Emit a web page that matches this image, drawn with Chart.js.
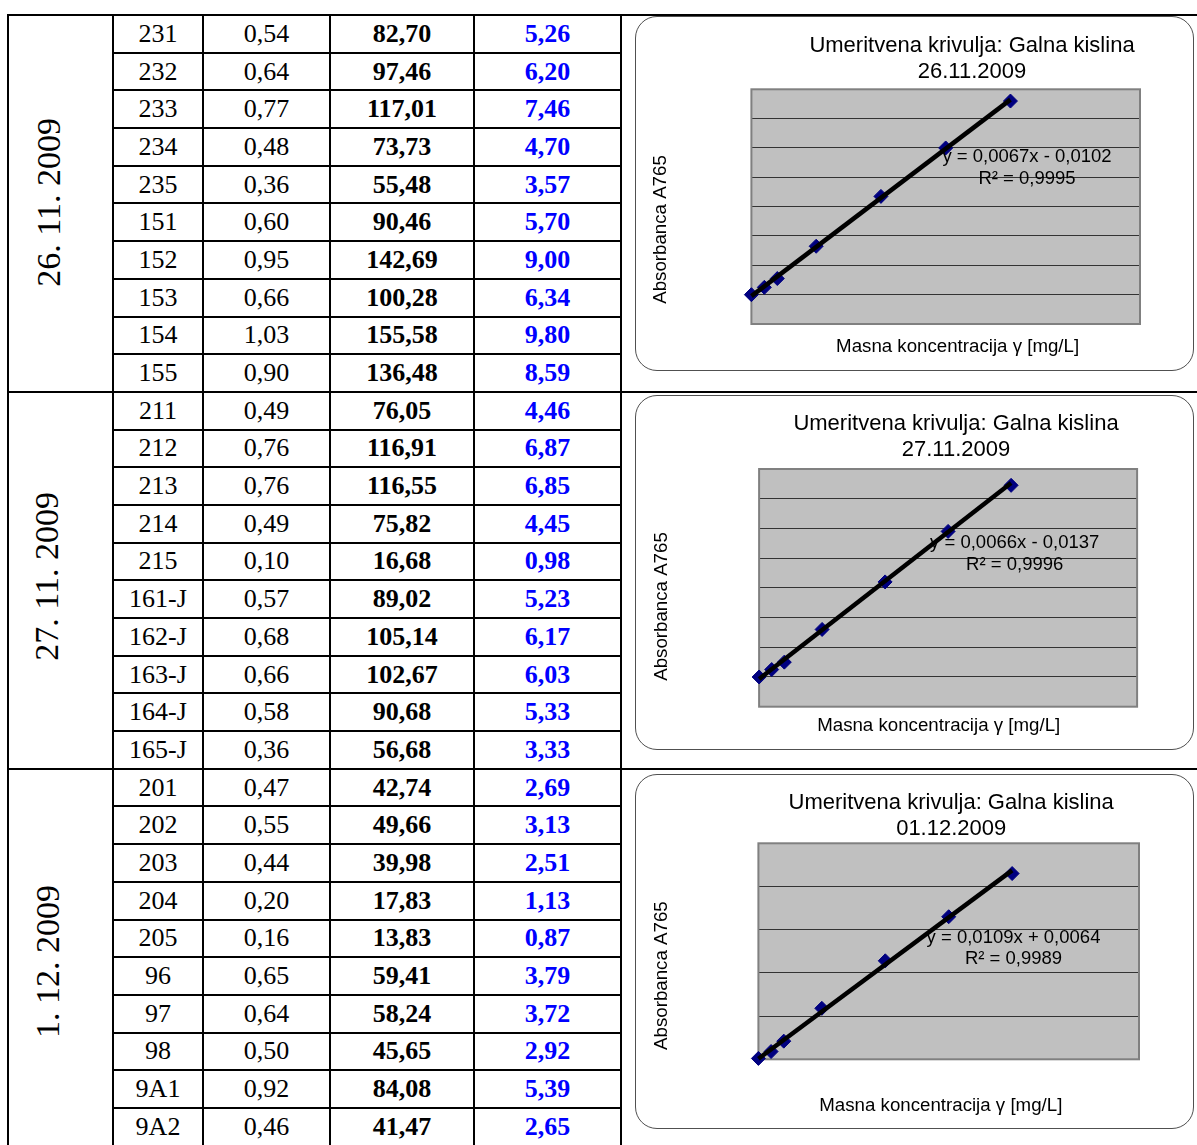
<!DOCTYPE html>
<html>
<head>
<meta charset="utf-8">
<script src="https://cdn.jsdelivr.net/npm/chart.js@4.4.1/dist/chart.umd.min.js"></script>
<style>
  html, body { margin: 0; padding: 0; background: #fff; overflow: hidden; width: 1197px; height: 1145px; }
  #tbl { position: absolute; left: 7px; top: 14px; width: 1193px; border-collapse: collapse; table-layout: fixed;
         font-family: "Liberation Serif", "Times New Roman", serif; font-size: 26px; color: #000; }
  #tbl td { border: 2px solid #000; padding: 0; text-align: center; vertical-align: middle; line-height: 1; white-space: nowrap; }
  #tbl tr { height: 37.7px; }
  #tbl td.b { font-weight: bold; }
  #tbl td.blue { font-weight: bold; color: #0000ff; }
  .dt { display: inline-block; writing-mode: vertical-rl; transform: rotate(180deg); font-size: 34px; position: relative; }
  .box { position: absolute; left: 635px; width: 559px; height: 355px; border: 1.5px solid #505050; border-radius: 22px; box-sizing: border-box; }
  canvas.ch { position: absolute; left: 622px; }
</style>
</head>
<body>
<table id="tbl">
  <colgroup>
    <col style="width:105px"><col style="width:90px"><col style="width:127px">
    <col style="width:144px"><col style="width:147px"><col style="width:580px">
  </colgroup>
  <tbody id="tbody"></tbody>
</table>

<div class="box" style="top:16px"></div>
<div class="box" style="top:395px"></div>
<div class="box" style="top:774px"></div>
<canvas class="ch" id="c0" width="575" height="376" style="top:16px"></canvas>
<canvas class="ch" id="c1" width="575" height="376" style="top:393px"></canvas>
<canvas class="ch" id="c2" width="575" height="376" style="top:770px"></canvas>

<script>
// ---- Table contents: measurement days and samples ----
const measureDays = ['26. 11. 2009', '27. 11. 2009', '1. 12. 2009'];

const sampleIds1 = ['231', '232', '233', '234', '235', '151', '152', '153', '154', '155'];
const absorb1    = [0.54, 0.64, 0.77, 0.48, 0.36, 0.60, 0.95, 0.66, 1.03, 0.90];
const massConc1  = [82.70, 97.46, 117.01, 73.73, 55.48, 90.46, 142.69, 100.28, 155.58, 136.48];
const content1   = [5.26, 6.20, 7.46, 4.70, 3.57, 5.70, 9.00, 6.34, 9.80, 8.59];

const sampleIds2 = ['211', '212', '213', '214', '215', '161-J', '162-J', '163-J', '164-J', '165-J'];
const absorb2    = [0.49, 0.76, 0.76, 0.49, 0.10, 0.57, 0.68, 0.66, 0.58, 0.36];
const massConc2  = [76.05, 116.91, 116.55, 75.82, 16.68, 89.02, 105.14, 102.67, 90.68, 56.68];
const content2   = [4.46, 6.87, 6.85, 4.45, 0.98, 5.23, 6.17, 6.03, 5.33, 3.33];

const sampleIds3 = ['201', '202', '203', '204', '205', '96', '97', '98', '9A1', '9A2'];
const absorb3    = [0.47, 0.55, 0.44, 0.20, 0.16, 0.65, 0.64, 0.50, 0.92, 0.46];
const massConc3  = [42.74, 49.66, 39.98, 17.83, 13.83, 59.41, 58.24, 45.65, 84.08, 41.47];
const content3   = [2.69, 3.13, 2.51, 1.13, 0.87, 3.79, 3.72, 2.92, 5.39, 2.65];

// ---- Calibration curves (gallic acid standards) ----
const curveTitle   = 'Umeritvena krivulja: Galna kislina';
const curveDates   = ['26.11.2009', '27.11.2009', '01.12.2009'];
const yAxisTitle   = 'Absorbanca A765';
const xAxisTitle   = 'Masna koncentracija γ [mg/L]';
const standardConc = [0, 10, 20, 50, 100, 150, 200];
const standardAbs1 = [0.00, 0.05, 0.11, 0.33, 0.67, 1.00, 1.32];
const standardAbs2 = [0.00, 0.05, 0.10, 0.32, 0.64, 0.98, 1.29];
const standardAbs3 = [0.01, 0.09, 0.21, 0.59, 1.14, 1.65, 2.15];
const fitSlopes     = [0.0067, 0.0066, 0.0109];
const fitIntercepts = [-0.0102, -0.0137, 0.0064];
const fitR2         = [0.9995, 0.9996, 0.9989];
const yMins  = [-0.2, -0.2, 0];
const yMaxs  = [1.4, 1.4, 2.5];
const ySteps = [0.2, 0.2, 0.5];
const xMax   = 300;

const comma = (v, d) => v.toFixed(d).replace('.', ',');

// ---- Build the table ----
const groups = [
  [sampleIds1, absorb1, massConc1, content1],
  [sampleIds2, absorb2, massConc2, content2],
  [sampleIds3, absorb3, massConc3, content3]
];
const dayLabelShift = [[-12, 1], [-14, -1], [-13, 7]];
const tbody = document.getElementById('tbody');
groups.forEach((g, gi) => {
  const [ids, ab, mc, ct] = g;
  ids.forEach((id, i) => {
    const tr = document.createElement('tr');
    if (i === 0) {
      const td = document.createElement('td');
      td.rowSpan = ids.length;
      const s = document.createElement('span');
      s.className = 'dt';
      s.textContent = measureDays[gi];
      s.style.left = dayLabelShift[gi][0] + 'px';
      s.style.top = dayLabelShift[gi][1] + 'px';
      td.appendChild(s);
      tr.appendChild(td);
    }
    const cells = [[id, ''], [comma(ab[i], 2), ''], [comma(mc[i], 2), 'b'], [comma(ct[i], 2), 'blue']];
    cells.forEach(([txt, cls]) => {
      const td = document.createElement('td');
      td.textContent = txt;
      if (cls) td.className = cls;
      tr.appendChild(td);
    });
    if (i === 0) {
      const td = document.createElement('td');
      td.rowSpan = ids.length;
      tr.appendChild(td);
    }
    tbody.appendChild(tr);
  });
});

// ---- Chart decoration: grey plot area, frame, titles and trendline label ----
const curveDecor = {
  id: 'curveDecor',
  beforeDraw(chart) {
    const { ctx, chartArea: a } = chart;
    ctx.save();
    ctx.fillStyle = '#c0c0c0';
    ctx.fillRect(a.left, a.top, a.right - a.left, a.bottom - a.top);
    ctx.restore();
  },
  beforeDatasetsDraw(chart) {
    const { ctx, chartArea: a } = chart;
    ctx.save();
    ctx.strokeStyle = '#808080';
    ctx.lineWidth = 2;
    ctx.strokeRect(a.left, a.top, a.right - a.left, a.bottom - a.top);
    ctx.restore();
  },
  afterDatasetsDraw(chart, args, o) {
    const ctx = chart.ctx;
    ctx.save();
    ctx.fillStyle = '#000';
    ctx.textAlign = 'center';
    ctx.textBaseline = 'middle';
    ctx.font = o.titleFont;
    o.title.forEach((t, i) => ctx.fillText(t, o.titleX, o.titleY[i]));
    ctx.font = o.axisFont;
    ctx.fillText(o.xTitle, o.xTitleX, o.xTitleY);
    ctx.save();
    ctx.translate(o.yTitleX, o.yTitleY);
    ctx.rotate(-Math.PI / 2);
    ctx.fillText(o.yTitle, 0, 0);
    ctx.restore();
    ctx.font = o.eqFont;
    o.eq.forEach((t, i) => ctx.fillText(t, o.eqX, o.eqY[i]));
    ctx.restore();
  }
};

const layouts = [
  { pad: { left: 129.4, right: 57, top: 73.3, bottom: 68 },   titleX: 350,   titleY: [29.8, 55.5], yTitleX: 38.5, yTitleY: 213.5, xTitleX: 335.6, xTitleY: 331.3, eqX: 405,   eqY: [140.7, 163] },
  { pad: { left: 137.1, right: 59.9, top: 76, bottom: 62.3 }, titleX: 334,   titleY: [31.3, 57],   yTitleX: 40,   yTitleY: 213.5, xTitleX: 316.7, xTitleY: 332.8, eqX: 392.7, eqY: [150.3, 172] },
  { pad: { left: 136.4, right: 58, top: 73.3, bottom: 86.7 }, titleX: 329.2, titleY: [33.3, 59.2], yTitleX: 40,   yTitleY: 205.6, xTitleX: 318.8, xTitleY: 335.8, eqX: 391.5, eqY: [168.3, 189.3] }
];

const standardAbs = [standardAbs1, standardAbs2, standardAbs3];

standardAbs.forEach((absVals, k) => {
  const L = layouts[k];
  const pts = standardConc.map((c, i) => ({ x: c, y: absVals[i] }));
  const x0 = standardConc[0], x1 = standardConc[standardConc.length - 1];
  const trend = [x0, x1].map(x => ({ x, y: fitSlopes[k] * x + fitIntercepts[k] }));
  const b = fitIntercepts[k];
  const eqText = 'y = ' + comma(fitSlopes[k], 4) + 'x ' + (b < 0 ? '- ' : '+ ') + comma(Math.abs(b), 4);

  new Chart(document.getElementById('c' + k), {
    type: 'scatter',
    data: {
      datasets: [
        { label: 'Linearni trend', type: 'line', data: trend, showLine: true, borderColor: '#000', borderWidth: 4.5,
          pointRadius: 0, fill: false, order: 0, clip: false },
        { label: 'Standardi', data: pts, pointStyle: 'rectRot', pointRadius: 7, pointHoverRadius: 7,
          backgroundColor: '#000080', borderColor: '#000080', pointBackgroundColor: '#000080',
          pointBorderColor: '#000080', borderWidth: 1, order: 1, clip: false }
      ]
    },
    options: {
      responsive: false, animation: false, devicePixelRatio: 1,
      layout: { padding: L.pad },
      plugins: {
        legend: { display: false }, tooltip: { enabled: false },
        curveDecor: {
          title: [curveTitle, curveDates[k]], titleFont: '22px "Liberation Sans", Arial, sans-serif',
          titleX: L.titleX, titleY: L.titleY,
          xTitle: xAxisTitle, xTitleX: L.xTitleX, xTitleY: L.xTitleY,
          yTitle: yAxisTitle, yTitleX: L.yTitleX, yTitleY: L.yTitleY,
          axisFont: '18.7px "Liberation Sans", Arial, sans-serif',
          eq: [eqText, 'R² = ' + comma(fitR2[k], 4)], eqFont: '18.5px "Liberation Sans", Arial, sans-serif',
          eqX: L.eqX, eqY: L.eqY
        }
      },
      scales: {
        x: { type: 'linear', min: 0, max: xMax, grid: { display: false, drawTicks: false },
             border: { display: false }, ticks: { display: false } },
        y: { type: 'linear', min: yMins[k], max: yMaxs[k], ticks: { display: false, stepSize: ySteps[k] },
             grid: { color: '#333', lineWidth: 1, drawTicks: false }, border: { display: false } }
      }
    },
    plugins: [curveDecor]
  });
});
</script>
</body>
</html>
